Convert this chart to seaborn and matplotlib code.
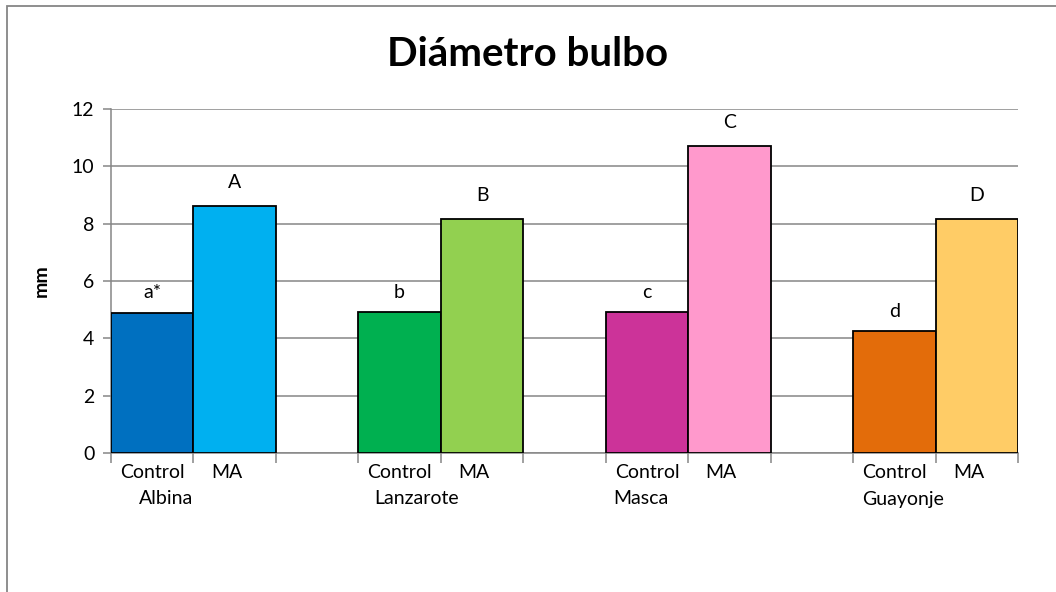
import pandas as pd
import matplotlib.pyplot as plt
import matplotlib.patches as mpatches
import seaborn as sns

# data
groups = ['Albina', 'Lanzarote', 'Masca', 'Guayonje']
treatments = ['Control', 'MA']
control_vals = [4.90, 4.92, 4.92, 4.26]
ma_vals = [8.62, 8.15, 10.71, 8.16]
control_letters = ['a*', 'b', 'c', 'd']
ma_letters = ['A', 'B', 'C', 'D']
control_colors = ['#0070C0', '#00B050', '#CC3399', '#E36C0A']
ma_colors = ['#00B0F0', '#92D050', '#FF99CC', '#FFCC66']

rows = []
for g, c, m in zip(groups, control_vals, ma_vals):
    rows.append({'slot': f'{g} Control', 'value': c})
    rows.append({'slot': f'{g} MA', 'value': m})
df = pd.DataFrame(rows)

# slot order with an empty slot between groups
order = []
for i, g in enumerate(groups):
    order += [f'{g} Control', f'{g} MA']
    if i < len(groups) - 1:
        order.append(' ' * (i + 1))

palette = {}
for g, cc, mc in zip(groups, control_colors, ma_colors):
    palette[f'{g} Control'] = cc
    palette[f'{g} MA'] = mc

sns.set_style('white')
plt.rcParams['font.family'] = ['Lato', 'DejaVu Sans']
plt.rcParams['text.color'] = 'black'
plt.rcParams['axes.labelcolor'] = 'black'
plt.rcParams['xtick.color'] = 'black'
plt.rcParams['ytick.color'] = 'black'

fig = plt.figure(figsize=(10.56, 5.92), dpi=100)
ax = fig.add_axes([111 / 1056, 1 - 453 / 592, 907 / 1056, 344 / 592])

sns.barplot(data=df, x='slot', y='value', hue='slot', order=order, hue_order=list(palette),
            palette=palette, saturation=1, width=1.0, edgecolor='black', linewidth=1.3,
            legend=False, ax=ax, zorder=3)

ax.set_xlim(-0.5, len(order) - 0.5)
ax.set_ylim(0, 12)
ax.set_yticks(range(0, 13, 2))
ax.yaxis.grid(True, color='#868686', linewidth=1.1, zorder=0)
ax.set_axisbelow(True)
for side in ['top', 'right']:
    ax.spines[side].set_visible(False)
for side in ['left', 'bottom']:
    ax.spines[side].set_color('#868686')
    ax.spines[side].set_linewidth(1.1)

ax.set_xticks([i - 0.5 for i in range(len(order) + 1)])
ax.set_xticklabels([])
ax.tick_params(axis='x', bottom=True, direction='out', length=7, color='#868686', width=1.1)
ax.tick_params(axis='y', left=True, direction='out', length=6, color='#868686', width=1.1,
               labelsize=14, pad=6, labelcolor='black')
ax.set_xlabel('')
ax.set_ylabel('mm', fontsize=14, fontweight='bold', labelpad=16)

# significance letters above bars and category labels below axis
name_offsets = [0.17, 0.2, -0.07, 0.1]
for i, g in enumerate(groups):
    xc = order.index(f'{g} Control')
    xm = order.index(f'{g} MA')
    ax.annotate(control_letters[i], (xc, control_vals[i]), xytext=(0, 8),
                textcoords='offset points', ha='center', va='bottom', fontsize=14)
    ax.annotate(ma_letters[i], (xm, ma_vals[i]), xytext=(0, 11),
                textcoords='offset points', ha='center', va='bottom', fontsize=14)
    ax.annotate(treatments[0], (xc, 0), xytext=(0, -8), textcoords='offset points',
                ha='center', va='top', fontsize=14, annotation_clip=False)
    ax.annotate(treatments[1], (xm - 0.1, 0), xytext=(0, -8), textcoords='offset points',
                ha='center', va='top', fontsize=14, annotation_clip=False)
    ax.annotate(g, (xc + name_offsets[i], 0), xytext=(0, -27), textcoords='offset points',
                ha='center', va='top', fontsize=14, annotation_clip=False)

fig.text(0.5, 1 - 55 / 592, 'Diámetro bulbo', ha='center', va='center',
         fontsize=29, fontweight='bold')

# chart area border
fig.patches.append(mpatches.Rectangle((7 / 1056, -0.1), 1.2, 1 - 6 / 592 + 0.1,
                                      transform=fig.transFigure, fill=False,
                                      edgecolor='#868686', linewidth=1.3))

fig.savefig('out.png', dpi=100)
